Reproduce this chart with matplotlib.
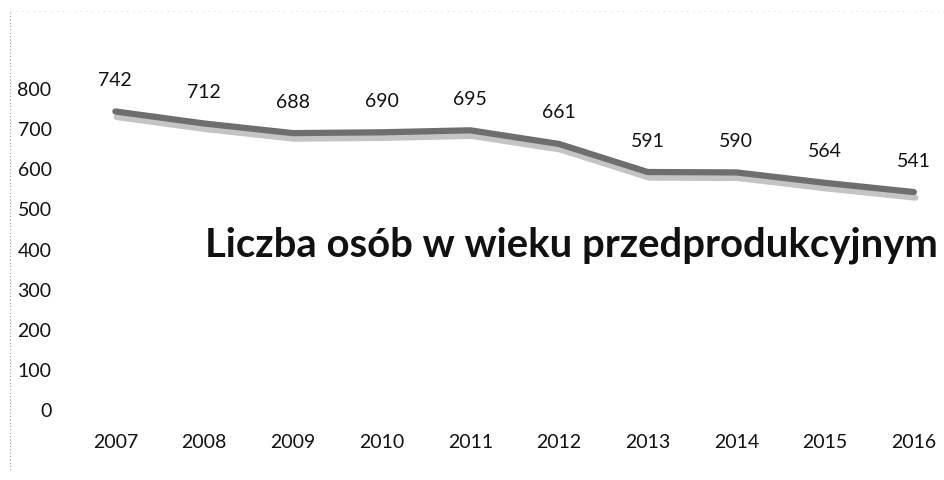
import matplotlib.pyplot as plt
import matplotlib.patheffects as pe
from matplotlib.lines import Line2D

# data
years = ["2007", "2008", "2009", "2010", "2011", "2012", "2013", "2014", "2015", "2016"]
values = [742, 712, 688, 690, 695, 661, 591, 590, 564, 541]
y_ticks = [0, 100, 200, 300, 400, 500, 600, 700, 800]
title = "Liczba osób w wieku przedprodukcyjnym"

plt.rcParams['font.family'] = ['Lato', 'DejaVu Sans']

fig = plt.figure(figsize=(9.44, 4.81), dpi=100)
W, H = 944, 481
# axes placed in pixel terms: x from 71 to 944, y from 410 (bottom) up to 9
ax = fig.add_axes([71 / W, (H - 410) / H, (W - 71) / W, (410 - 9) / H])

x = list(range(len(years)))
ax.plot(x, values, color='#6e6e6e', lw=4.5, solid_capstyle='round',
        solid_joinstyle='round',
        path_effects=[pe.SimpleLineShadow(offset=(1, -4), shadow_color='#c4c4c4', alpha=1),
                      pe.Normal()])

for i, v in enumerate(values):
    ax.annotate(str(v), (i, v), xytext=(0, 23), textcoords='offset points',
                ha='center', va='center', fontsize=14, color='#111111')

ax.set_xlim(-0.5, 9.34)
ax.set_ylim(0, 1000)
ax.set_xticks(x)
ax.set_xticklabels(years)
ax.set_yticks(y_ticks)
ax.tick_params(axis='x', length=0, pad=17, labelsize=14, colors='#111111')
ax.tick_params(axis='y', length=0, pad=14, labelsize=14, colors='#111111')
for s in ax.spines.values():
    s.set_visible(False)

# title sits inside the plot, from x=205px to about 940px
t = fig.text(205 / W, 1 - 245 / H, title, fontsize=26, fontweight='bold',
             color='#111111', ha='left', va='center')
fig.canvas.draw()
w = t.get_window_extent().width
t.set_fontsize(26 * 733 / w)

# faint dotted border of the scanned chart
fig.add_artist(Line2D([10 / W, 10 / W], [0.02, 1 - 12 / H], transform=fig.transFigure,
                      color='#999999', lw=0.8, ls=(0, (1, 2))))
fig.add_artist(Line2D([10 / W, 1.0], [1 - 12 / H, 1 - 12 / H], transform=fig.transFigure,
                      color='#cccccc', lw=0.6, ls=(0, (1, 6))))

fig.savefig('out.png', dpi=100)
